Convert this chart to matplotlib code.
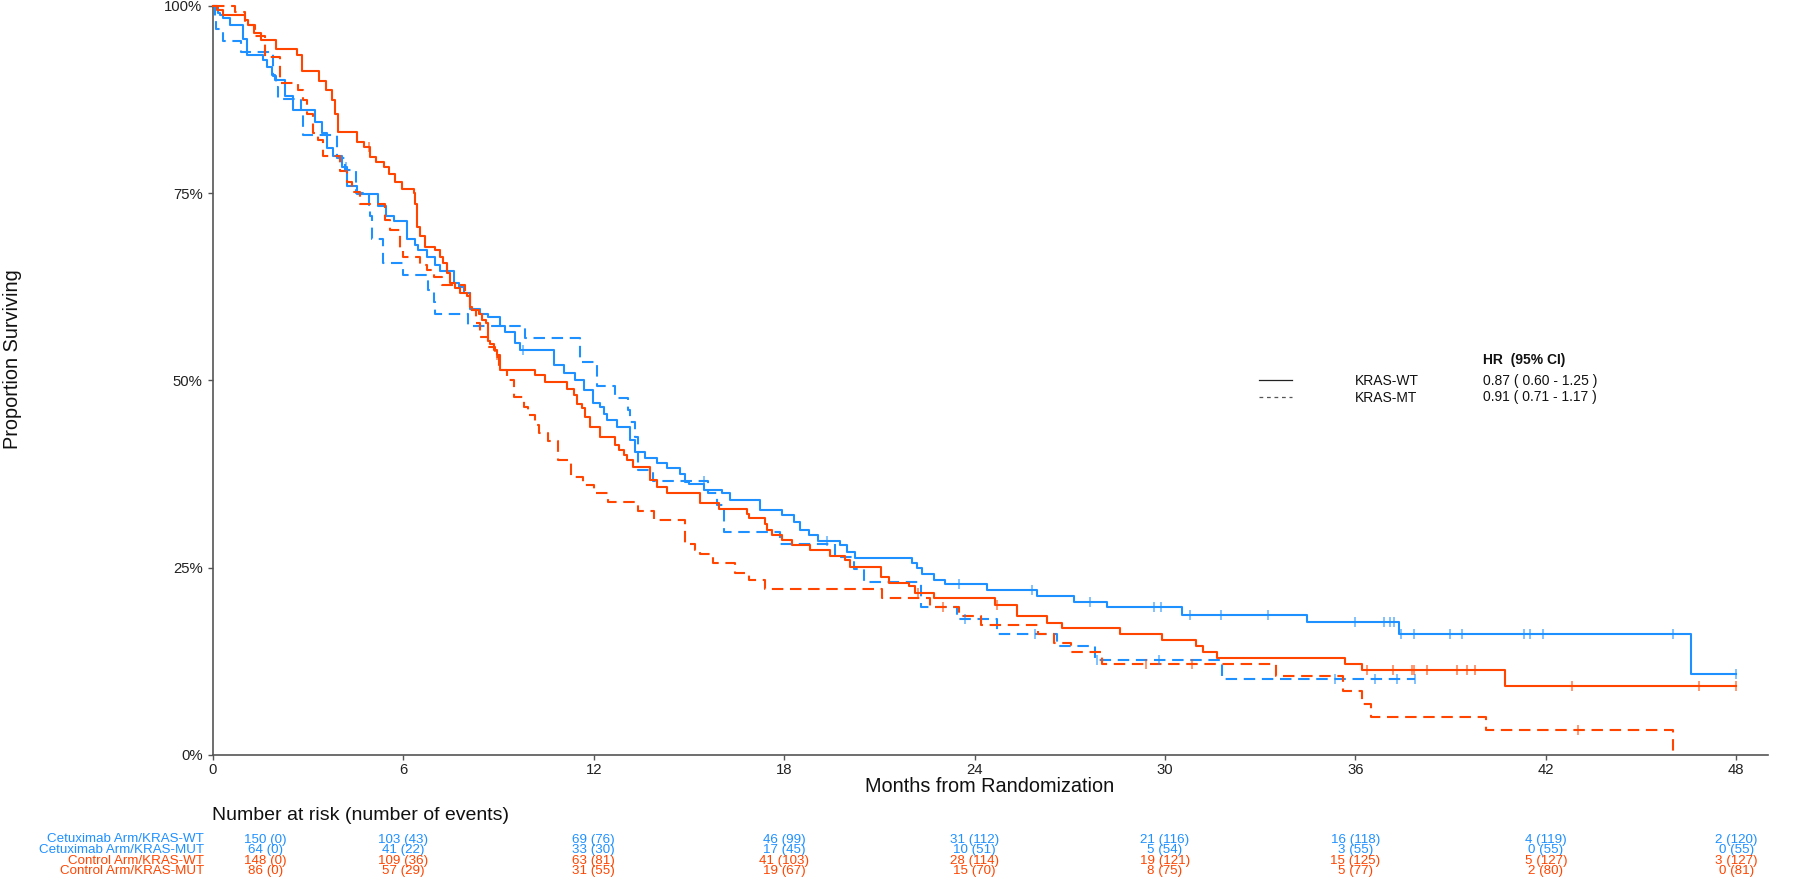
import numpy as np
import matplotlib
matplotlib.use("Agg")
import matplotlib.pyplot as plt
from matplotlib.lines import Line2D
from matplotlib.transforms import blended_transform_factory

plt.rcParams['font.family'] = ['Liberation Sans', 'DejaVu Sans']

BLUE = '#1E90FF'
RED = '#FF4500'

# ---------------- Kaplan-Meier step data (time in months, survival after step) ----
cet_wt_t = [0, 0.17, 0.22, 0.33, 0.54, 0.96, 1.06, 1.59, 1.69, 1.85,
            1.95, 2.27, 2.53, 3.22, 3.43, 3.58, 3.79, 4.06, 4.21, 4.53,
            5.21, 5.45, 5.69, 6.11, 6.37, 6.47, 6.74, 7.0, 7.16, 7.58,
            7.74, 7.9, 8.1, 8.42, 8.68, 9.05, 9.21, 9.52, 9.68, 10.73,
            11.05, 11.41, 11.68, 11.99, 12.2, 12.31, 12.41, 12.73, 13.15, 13.3,
            13.62, 13.99, 14.31, 14.72, 14.88, 15.0, 15.46, 16.04, 16.3, 17.24,
            17.93, 18.3, 18.51, 18.77, 19.08, 19.77, 19.98, 20.24, 22.03, 22.19,
            22.34, 22.71, 23.08, 24.39, 25.97, 27.13, 28.18, 30.55, 34.47, 37.37,
            46.58]
cet_wt_s = [1.0, 0.99, 0.987, 0.983, 0.974, 0.955, 0.934, 0.927, 0.918, 0.907,
            0.901, 0.88, 0.861, 0.845, 0.83, 0.81, 0.80, 0.785, 0.76, 0.749,
            0.733, 0.72, 0.712, 0.689, 0.68, 0.674, 0.665, 0.654, 0.646, 0.63,
            0.625, 0.616, 0.595, 0.589, 0.585, 0.573, 0.565, 0.55, 0.541, 0.52,
            0.51, 0.50, 0.487, 0.47, 0.465, 0.455, 0.447, 0.438, 0.42, 0.404,
            0.397, 0.39, 0.383, 0.375, 0.365, 0.362, 0.354, 0.349, 0.34, 0.327,
            0.32, 0.311, 0.30, 0.293, 0.286, 0.28, 0.271, 0.263, 0.256, 0.249,
            0.242, 0.234, 0.228, 0.22, 0.212, 0.204, 0.197, 0.187, 0.177, 0.1615,
            0.108]
cet_wt_end = 48.0
cet_wt_cens = [4.2, 9.77, 19.35, 23.5, 25.81, 27.65, 29.65, 29.86, 30.78, 31.77,
               33.25, 35.98, 36.91, 37.08, 37.23, 37.45, 37.86, 38.97, 39.35, 41.31,
               41.5, 41.92, 46.0, 48.0]

cet_mut_t = [0, 0.05, 0.1, 0.3, 0.88, 1.9, 2.0, 2.05, 2.78, 2.85,
             3.9, 4.16, 4.5, 4.9, 4.95, 5.0, 5.37, 6.0, 6.79, 6.95,
             7.0, 8.05, 9.84, 11.57, 12.1, 12.67, 13.09, 13.15, 13.3, 13.38,
             13.88, 15.6, 15.88, 16.09, 17.88, 19.6, 20.2, 20.5, 22.3, 23.44,
             24.71, 26.6, 27.8, 31.8]
cet_mut_s = [1.0, 0.984, 0.969, 0.953, 0.938, 0.906, 0.891, 0.875, 0.859, 0.828,
             0.797, 0.781, 0.750, 0.734, 0.719, 0.688, 0.656, 0.641, 0.620, 0.605,
             0.589, 0.573, 0.557, 0.525, 0.493, 0.476, 0.460, 0.444, 0.425, 0.381,
             0.366, 0.349, 0.333, 0.297, 0.281, 0.264, 0.248, 0.231, 0.198, 0.1815,
             0.162, 0.145, 0.127, 0.1014]
cet_mut_end = 37.87
cet_mut_cens = [15.46, 23.7, 25.9, 27.86, 29.8, 35.36, 36.61, 37.3, 37.87]

ctrl_wt_t = [0, 0.12, 0.3, 1.0, 1.1, 1.3, 1.5, 2.0, 2.65, 2.8,
             3.35, 3.55, 3.75, 3.85, 3.95, 4.55, 4.75, 4.95, 5.15, 5.4,
             5.55, 5.75, 5.95, 6.32, 6.38, 6.42, 6.53, 6.68, 7.0, 7.16,
             7.26, 7.37, 7.47, 7.63, 7.79, 8.0, 8.1, 8.16, 8.37, 8.47,
             8.61, 8.65, 8.73, 8.84, 8.94, 9.05, 10.15, 10.47, 11.15, 11.36,
             11.47, 11.62, 11.73, 11.89, 12.2, 12.67, 12.78, 12.94, 13.04, 13.25,
             13.78, 13.99, 14.31, 15.35, 15.93, 16.82, 16.88, 17.4, 17.46, 17.62,
             17.93, 18.24, 18.82, 19.45, 19.9, 20.08, 21.06, 21.29, 21.92, 22.13,
             22.71, 24.65, 25.33, 26.28, 26.75, 28.59, 29.9, 30.97, 31.19, 31.65,
             35.67, 36.22, 40.71]
ctrl_wt_s = [1.0, 0.994, 0.987, 0.981, 0.974, 0.963, 0.954, 0.942, 0.934, 0.913,
             0.900, 0.887, 0.874, 0.856, 0.832, 0.818, 0.812, 0.798, 0.792, 0.785,
             0.776, 0.765, 0.755, 0.75, 0.736, 0.705, 0.692, 0.678, 0.674, 0.665,
             0.656, 0.643, 0.630, 0.623, 0.616, 0.612, 0.598, 0.594, 0.589, 0.580,
             0.576, 0.553, 0.549, 0.540, 0.534, 0.514, 0.507, 0.498, 0.489, 0.480,
             0.469, 0.463, 0.451, 0.438, 0.425, 0.414, 0.407, 0.400, 0.394, 0.385,
             0.367, 0.358, 0.349, 0.336, 0.328, 0.322, 0.316, 0.308, 0.300, 0.294,
             0.287, 0.280, 0.274, 0.266, 0.260, 0.251, 0.237, 0.230, 0.225, 0.216,
             0.209, 0.200, 0.185, 0.176, 0.169, 0.161, 0.153, 0.146, 0.138, 0.129,
             0.121, 0.113, 0.092]
ctrl_wt_end = 48.0
ctrl_wt_cens = [4.93, 8.94, 22.2, 24.7, 36.37, 37.19, 37.77, 37.85, 38.24, 39.2,
                39.52, 39.78, 42.82, 46.84, 48.0]

ctrl_mut_t = [0, 0.69, 1.01, 1.32, 1.64, 2.11, 2.69, 2.85, 2.95, 3.16,
              3.32, 3.48, 4.0, 4.21, 4.37, 4.63, 5.42, 5.58, 5.9, 6.0,
              6.53, 6.74, 6.95, 7.21, 7.95, 8.1, 8.3, 8.42, 8.68, 8.89,
              9.0, 9.26, 9.47, 9.79, 9.94, 10.15, 10.26, 10.56, 10.88, 11.29,
              11.67, 12.0, 12.45, 13.4, 13.9, 14.88, 15.2, 15.35, 15.75, 16.45,
              16.9, 17.4, 21.08, 22.6, 23.5, 24.2, 26.0, 26.5, 27.05, 28.0,
              33.5, 35.6, 36.2, 36.5, 40.1, 46.0]
ctrl_mut_s = [1.0, 0.991, 0.974, 0.960, 0.932, 0.897, 0.887, 0.874, 0.856, 0.830,
              0.821, 0.800, 0.780, 0.765, 0.752, 0.735, 0.714, 0.700, 0.674, 0.664,
              0.654, 0.647, 0.638, 0.627, 0.616, 0.594, 0.576, 0.558, 0.545, 0.531,
              0.514, 0.500, 0.478, 0.465, 0.454, 0.440, 0.430, 0.419, 0.394, 0.371,
              0.360, 0.350, 0.337, 0.326, 0.314, 0.282, 0.274, 0.268, 0.256, 0.243,
              0.233, 0.221, 0.209, 0.198, 0.185, 0.173, 0.162, 0.150, 0.137, 0.121,
              0.105, 0.086, 0.068, 0.051, 0.0334, 0.0]
ctrl_mut_end = 46.0
ctrl_mut_cens = [23.0, 29.4, 30.85, 43.0]

# ---------------- Risk table ----------------
risk_times = [0, 6, 12, 18, 24, 30, 36, 42, 48]
risk_labels = ["Cetuximab Arm/KRAS-WT", "Cetuximab Arm/KRAS-MUT",
               "Control Arm/KRAS-WT", "Control Arm/KRAS-MUT"]
cet_wt_risk = [150, 103, 69, 46, 31, 21, 16, 4, 2]
cet_wt_events = [0, 43, 76, 99, 112, 116, 118, 119, 120]
cet_mut_risk = [64, 41, 33, 17, 10, 5, 3, 0, 0]
cet_mut_events = [0, 22, 30, 45, 51, 54, 55, 55, 55]
ctrl_wt_risk = [148, 109, 63, 41, 28, 19, 15, 5, 3]
ctrl_wt_events = [0, 36, 81, 103, 114, 121, 125, 127, 127]
ctrl_mut_risk = [86, 57, 31, 19, 15, 8, 5, 2, 0]
ctrl_mut_events = [0, 29, 55, 67, 70, 75, 77, 80, 81]

# ---------------- Legend / HR ----------------
hr_groups = ["KRAS-WT", "KRAS-MT"]
hr_values = ["0.87 ( 0.60 - 1.25 )", "0.91 ( 0.71 - 1.17 )"]

# ---------------- Figure ----------------
W, H = 1800, 882
fig = plt.figure(figsize=(W / 100, H / 100), dpi=100)
ax_left, ax_right, ax_top, ax_bottom = 213, 1768, 5.7, 755
ax = fig.add_axes([ax_left / W, 1 - ax_bottom / H,
                   (ax_right - ax_left) / W, (ax_bottom - ax_top) / H])
ax.set_xlim(0, 49.0)
ax.set_ylim(0, 1.0)

DASH = (0, (5.5, 3.2))


def draw_curve(t, s, end, cens, color, ls):
    tt = list(t) + [end]
    ss = list(s) + [s[-1]]
    ax.step(tt, ss, where='post', color=color, lw=1.5, linestyle=ls,
            clip_on=False, zorder=3)
    ta = np.asarray(t)
    sa = np.asarray(s)
    c = np.asarray(cens)
    idx = np.searchsorted(ta, c, side='right') - 1
    ax.plot(c, sa[idx], linestyle='none', marker='|', ms=7.5, mew=1.1,
            color=color, alpha=0.7, clip_on=False, zorder=4)


draw_curve(cet_wt_t, cet_wt_s, cet_wt_end, cet_wt_cens, BLUE, '-')
draw_curve(cet_mut_t, cet_mut_s, cet_mut_end, cet_mut_cens, BLUE, DASH)
draw_curve(ctrl_wt_t, ctrl_wt_s, ctrl_wt_end, ctrl_wt_cens, RED, '-')
draw_curve(ctrl_mut_t, ctrl_mut_s, ctrl_mut_end, ctrl_mut_cens, RED, DASH)

for side in ['top', 'right']:
    ax.spines[side].set_visible(False)
for side in ['left', 'bottom']:
    ax.spines[side].set_color('#555555')
    ax.spines[side].set_linewidth(1.2)

ax.set_xticks(risk_times)
ax.set_xticklabels([str(v) for v in risk_times])
ax.set_yticks([0, 0.25, 0.5, 0.75, 1.0])
ax.set_yticklabels(['0%', '25%', '50%', '75%', '100%'])
ax.tick_params(axis='both', colors='#555555', labelcolor='#222222',
               labelsize=10.7, length=3.5, width=1.0)
ax.tick_params(axis='x', pad=2.5)
ax.tick_params(axis='y', pad=4.0)

fig.text(13 / W, 1 - 359 / H, "Proportion Surviving", rotation=90,
         ha='center', va='center', fontsize=14.3, color='#111111')
fig.text(990 / W, 1 - 786 / H, "Months from Randomization",
         ha='center', va='center', fontsize=14.3, color='#111111')

# Legend
fig.add_artist(Line2D([1259 / W, 1292 / W], [1 - 380 / H, 1 - 380 / H],
                      color='#222222', lw=0.9))
fig.add_artist(Line2D([1259 / W, 1292 / W], [1 - 397 / H, 1 - 397 / H],
                      color='#555555', lw=0.9, linestyle=(0, (3.0, 3.0))))
fig.text(1483 / W, 1 - 360 / H, "HR  (95% CI)", ha='left', va='center',
         fontsize=10, fontweight='bold', color='#111111')
for k, (g, v) in enumerate(zip(hr_groups, hr_values)):
    yy = 1 - (381 + 16.5 * k) / H
    fig.text(1355 / W, yy, g, ha='left', va='center', fontsize=10, color='#111111')
    fig.text(1483 / W, yy, v, ha='left', va='center', fontsize=10, color='#111111')

# Risk table
fig.text(212 / W, 1 - 816 / H, "Number at risk (number of events)",
         ha='left', va='center', fontsize=14, color='#111111')
trans = blended_transform_factory(ax.transData, fig.transFigure)
row_y_px = [839.5, 850.2, 860.8, 871.3]
rows = [(cet_wt_risk, cet_wt_events, BLUE), (cet_mut_risk, cet_mut_events, BLUE),
        (ctrl_wt_risk, ctrl_wt_events, RED), (ctrl_mut_risk, ctrl_mut_events, RED)]
first_col_shift = 1.65
RFS = 9.6
for lab, (nr, ne, col), ypx in zip(risk_labels, rows, row_y_px):
    yf = 1 - ypx / H
    fig.text(204 / W, yf, lab, ha='right', va='center', fontsize=RFS, color=col)
    for tm, n, e in zip(risk_times, nr, ne):
        xx = tm if tm > 0 else first_col_shift
        ax.text(xx, yf, f"{n} ({e})", transform=trans, ha='center', va='center',
                fontsize=RFS, color=col, clip_on=False)

fig.savefig("out.png", dpi=100)
